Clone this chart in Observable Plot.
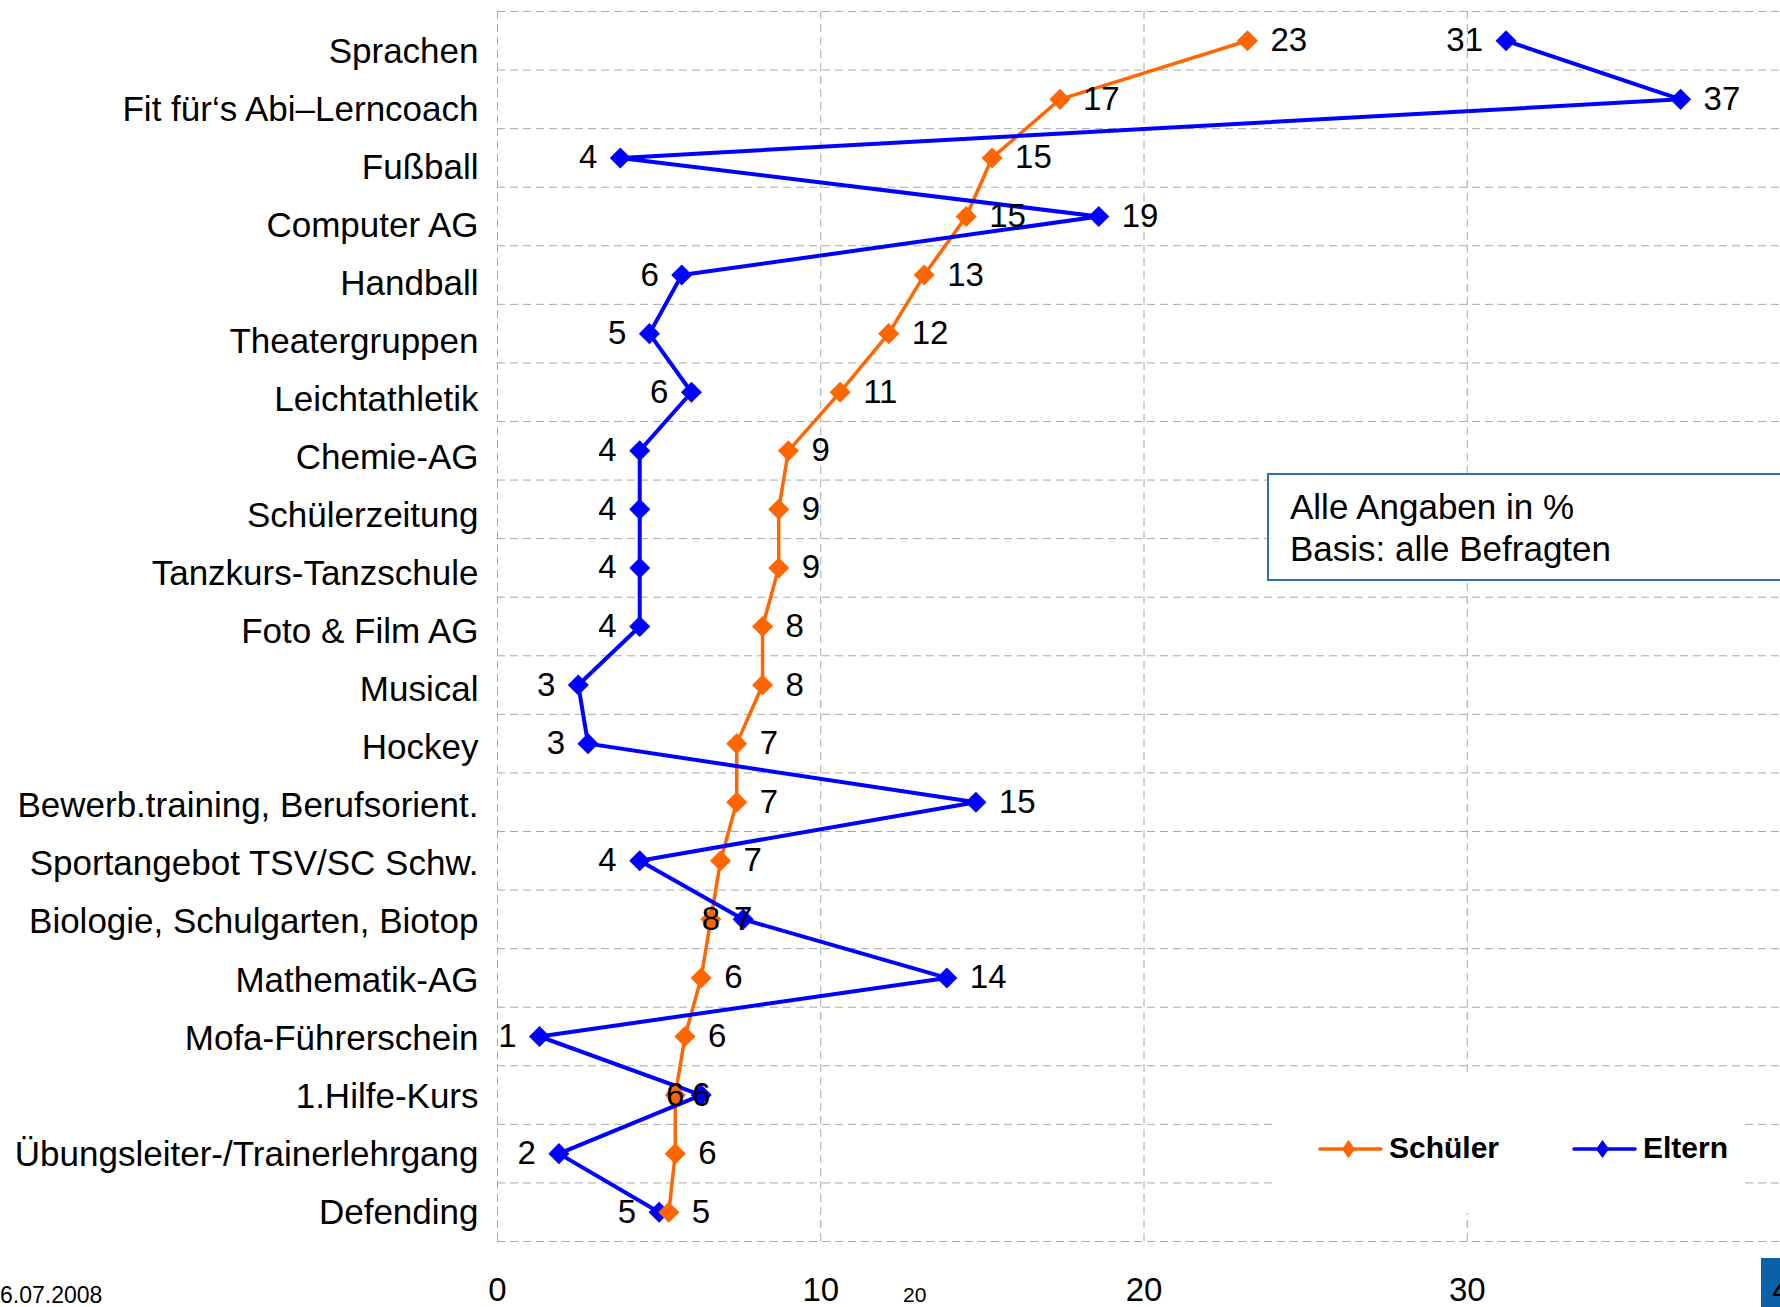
<!DOCTYPE html>
<html>
<head>
<meta charset="utf-8">
<script src="https://cdn.jsdelivr.net/npm/d3@7"></script>
<script src="https://cdn.jsdelivr.net/npm/@observablehq/plot@0.6"></script>
<style>
  html, body { margin: 0; padding: 0; background: #fff; overflow: hidden; }
  #wrap { position: relative; width: 1780px; height: 1307px; overflow: hidden; background: #fff;
          font-family: "Liberation Sans", Arial, sans-serif; color: #000; }
  #wrap > svg { position: absolute; left: 0; top: 0; }
  .note { position: absolute; left: 1267px; top: 473px; width: 640px; height: 108px; box-sizing: border-box;
          border: 2px solid #2f6fb3; background: #fff; padding: 11px 0 0 21px; font-size: 35px; line-height: 42px; z-index: 3; }
  .legend { position: absolute; left: 1272px; top: 1073px; width: 468px; height: 140px; background: #fff; z-index: 3; }
  #wrap .legend .item { position: absolute; top: 76px; height: 0; }
  #wrap .legend .item svg { position: absolute; left: 0; top: -15px; }
  #wrap .legend .item span { position: absolute; top: -19px; font-weight: bold; font-size: 30px; line-height: 36px; white-space: nowrap; }
  .foot { position: absolute; white-space: nowrap; z-index: 3; }
  .logo { position: absolute; left: 1761px; top: 1258px; width: 19px; height: 49px; background: #0b61a8; z-index: 0; }
</style>
</head>
<body>
<div id="wrap"></div>
<script>
// ---- data ----
const categories = [
  "Sprachen",
  "Fit für‘s Abi–Lerncoach",
  "Fußball",
  "Computer AG",
  "Handball",
  "Theatergruppen",
  "Leichtathletik",
  "Chemie-AG",
  "Schülerzeitung",
  "Tanzkurs-Tanzschule",
  "Foto & Film AG",
  "Musical",
  "Hockey",
  "Bewerb.training, Berufsorient.",
  "Sportangebot TSV/SC Schw.",
  "Biologie, Schulgarten, Biotop",
  "Mathematik-AG",
  "Mofa-Führerschein",
  "1.Hilfe-Kurs",
  "Übungsleiter-/Trainerlehrgang",
  "Defending"
];
const schueler = [23.2, 17.4, 15.3, 14.5, 13.2, 12.1, 10.6, 9.0, 8.7, 8.7, 8.2, 8.2, 7.4, 7.4, 6.9, 6.6, 6.3, 5.8, 5.5, 5.5, 5.3];
const eltern   = [31.2, 36.6, 3.8, 18.6, 5.7, 4.7, 6.0, 4.4, 4.4, 4.4, 4.4, 2.5, 2.8, 14.8, 4.4, 7.6, 13.9, 1.3, 6.3, 1.9, 5.0];
const schuelerLabels = ["23","17","15","15","13","12","11","9","9","9","8","8","7","7","7","8","6","6","6","6","5"];
const elternLabels   = ["31","37","4","19","6","5","6","4","4","4","4","3","3","15","4","7","14","1","6","2","5"];
const xTicks = [0, 10, 20, 30, 40];
const seriesNames = ["Schüler", "Eltern"];
const seriesColors = ["#ff6600", "#0000ff"];
const noteLines = ["Alle Angaben in %", "Basis: alle Befragten"];
const dateText = "6.07.2008";
const strayText = "20";

// label placement (style config)
const centeredLabelCats = ["Biologie, Schulgarten, Biotop", "1.Hilfe-Kurs"];
const elternRightCats = ["Fit für‘s Abi–Lerncoach", "Computer AG", "Bewerb.training, Berufsorient.", "Mathematik-AG"];

// ---- build rows ----
const rows = [];
seriesNames.forEach((s, si) => {
  const vals = si === 0 ? schueler : eltern;
  const labs = si === 0 ? schuelerLabels : elternLabels;
  categories.forEach((c, i) => rows.push({series: s, cat: c, value: vals[i], label: labs[i]}));
});
function side(d) {
  if (centeredLabelCats.includes(d.cat)) return "c";
  if (d.series === "Schüler") return "r";
  return elternRightCats.includes(d.cat) ? "r" : "l";
}

const W = 1780, H = 1307, mTop = 11, mBottom = 66, mLeft = 497;
const step = (H - mTop - mBottom) / categories.length;
const grid = {stroke: "#a8a8a8", strokeWidth: 1, strokeDasharray: "8,5"};
const font = "'Liberation Sans', Arial, sans-serif";

const chart = Plot.plot({
  width: W, height: H,
  marginTop: mTop, marginBottom: mBottom, marginLeft: mLeft, marginRight: 0,
  x: {domain: [0, 40], range: [mLeft, 1790], label: null},
  y: {type: "point", domain: categories, padding: 0.5, round: false, axis: null},
  color: {domain: seriesNames, range: seriesColors},
  style: {background: "transparent", fontFamily: font, overflow: "hidden"},
  marks: [
    Plot.ruleY(categories, {y: d => d, dy: -step / 2, ...grid}),
    Plot.ruleY(categories.slice(-1), {y: d => d, dy: step / 2, ...grid}),
    Plot.ruleX(xTicks, {x: d => d, ...grid}),
    Plot.axisX({ticks: xTicks, tickSize: 0, tickPadding: 36, fontSize: 33, label: null, tickFormat: d => String(d)}),
    Plot.line(rows.filter(d => d.series === "Schüler"), {x: "value", y: "cat", stroke: "series", strokeWidth: 3.5}),
    Plot.line(rows.filter(d => d.series === "Eltern"), {x: "value", y: "cat", stroke: "series", strokeWidth: 4}),
    Plot.dot(rows.filter(d => d.series === "Eltern"), {x: "value", y: "cat", fill: "series", symbol: "diamond2", r: 9.5}),
    Plot.dot(rows.filter(d => d.series === "Schüler"), {x: "value", y: "cat", fill: "series", symbol: "diamond2", r: 9.5}),
    Plot.text(rows.filter(d => side(d) === "r"), {x: "value", y: "cat", text: "label", textAnchor: "start", dx: 23, fontSize: 33, fill: "#000"}),
    Plot.text(rows.filter(d => side(d) === "l"), {x: "value", y: "cat", text: "label", textAnchor: "end", dx: -23, fontSize: 33, fill: "#000"}),
    Plot.text(rows.filter(d => side(d) === "c"), {x: "value", y: "cat", text: "label", textAnchor: "middle", fontSize: 33, fill: "#000"})
  ]
});

const labelAxis = Plot.plot({
  width: 500, height: H,
  marginLeft: mLeft, marginRight: 3, marginTop: 0, marginBottom: 0,
  y: {type: "point", domain: categories, range: [51, 1212], padding: 0, round: false, axis: null, label: null},
  style: {background: "transparent", fontFamily: font, overflow: "visible"},
  marks: [Plot.axisY({tickSize: 0, tickPadding: 19, fontSize: 35, label: null})]
});

const wrap = document.getElementById("wrap");
const logo = document.createElement("div");
logo.className = "logo";
wrap.appendChild(logo);
chart.style.zIndex = 1;
labelAxis.style.zIndex = 2;
wrap.appendChild(chart);
wrap.appendChild(labelAxis);

// annotation box
const note = document.createElement("div");
note.className = "note";
note.innerHTML = noteLines.map(t => `<div>${t}</div>`).join("");
wrap.appendChild(note);

// legend
const legend = document.createElement("div");
legend.className = "legend";
const legendX = [46, 300];
seriesNames.forEach((s, i) => {
  const item = document.createElement("div");
  item.className = "item";
  item.style.left = legendX[i] + "px";
  item.innerHTML = `<svg width="66" height="30"><line x1="2" x2="63" y1="15" y2="15" stroke="${seriesColors[i]}" stroke-width="3.5" stroke-linecap="round"/>` +
    `<path d="M30.5,6 L37,15 L30.5,24 L24,15 Z" fill="${seriesColors[i]}"/></svg>` +
    `<span style="left:71px">${s}</span>`;
  legend.appendChild(item);
});
wrap.appendChild(legend);

// footer texts
const date = document.createElement("div");
date.className = "foot";
date.style.cssText = "left:0;top:1281px;font-size:23px;line-height:28px;";
date.textContent = dateText;
wrap.appendChild(date);
const stray = document.createElement("div");
stray.className = "foot";
stray.style.cssText = "left:903px;top:1282px;font-size:21px;line-height:26px;";
stray.textContent = strayText;
wrap.appendChild(stray);
</script>
</body>
</html>
